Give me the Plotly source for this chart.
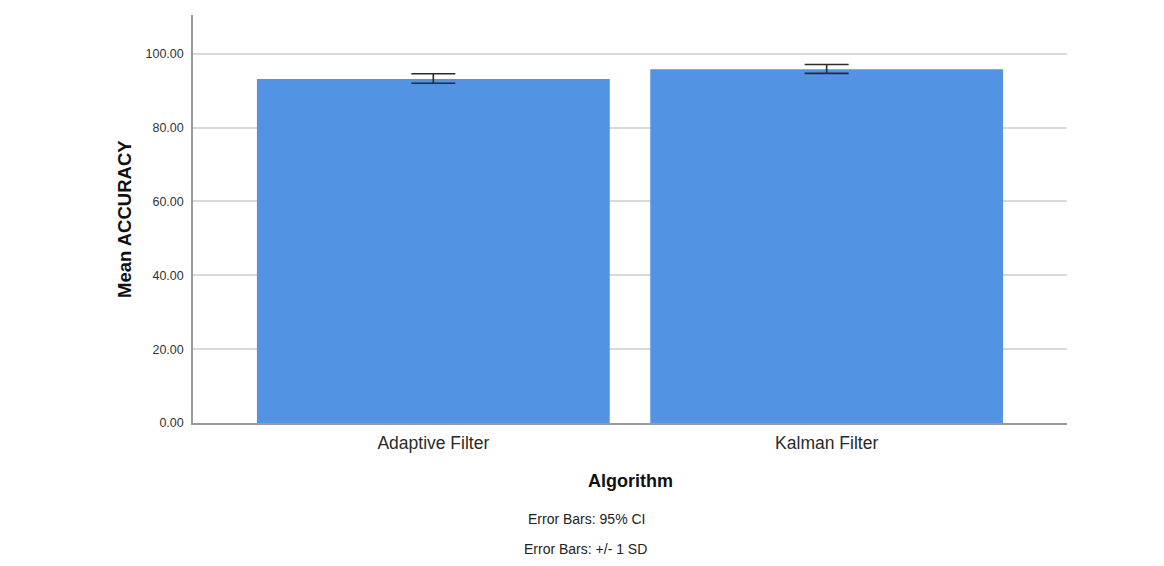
import plotly.graph_objects as go

categories = ["Adaptive Filter", "Kalman Filter"]
mean_accuracy = [93.2, 95.8]
err_plus = [1.4, 1.3]
err_minus = [1.2, 1.1]
y_ticks = [0, 20, 40, 60, 80, 100]
y_tick_labels = ["0.00", "20.00", "40.00", "60.00", "80.00", "100.00"]

fig = go.Figure()
fig.add_trace(go.Bar(
    x=[0, 1], y=mean_accuracy,
    width=0.897,
    marker=dict(color="#5393e4", line=dict(width=0)),
    error_y=dict(type="data", symmetric=False, array=err_plus, arrayminus=err_minus,
                 color="#2b2b2b", thickness=1.6, width=22),
))

fig.update_layout(
    width=1164, height=566,
    margin=dict(l=193, r=97, t=15, b=143),
    paper_bgcolor="white", plot_bgcolor="white",
    showlegend=False,
    font=dict(family="Liberation Sans, Arial, sans-serif", color="#222222"),
    xaxis=dict(
        range=[-0.611, 1.611],
        tickmode="array", tickvals=[0, 1], ticktext=categories,
        tickfont=dict(size=17.5, color="#2a2a2a"),
        showgrid=False, zeroline=False,
        showline=True, linecolor="#9a9a9a", linewidth=1.5,
        ticks="", ticklabelstandoff=3,
    ),
    yaxis=dict(
        range=[0, 110.5],
        tickmode="array", tickvals=y_ticks, ticktext=y_tick_labels,
        tickfont=dict(size=12.5, color="#333333"),
        showgrid=True, gridcolor="#d9d9d9", gridwidth=1.5,
        zeroline=False,
        showline=True, linecolor="#9a9a9a", linewidth=1.5,
        ticks="", ticklabelstandoff=5,
    ),
    annotations=[
        dict(text="<b>Mean ACCURACY</b>", xref="paper", yref="paper", x=0, y=0.5,
             xshift=-69, yshift=0, textangle=-90, showarrow=False,
             font=dict(size=18.5, color="#111111"),
             xanchor="center", yanchor="middle"),
        dict(text="<b>Algorithm</b>", xref="paper", yref="paper", x=0.5, y=0,
             yshift=-58, showarrow=False, font=dict(size=18, color="#111111"),
             xanchor="center", yanchor="middle"),
        dict(text="Error Bars: 95% CI", xref="paper", yref="paper", x=0.5, y=0,
             xshift=-44, yshift=-96, showarrow=False, font=dict(size=14, color="#222222"),
             xanchor="center", yanchor="middle"),
        dict(text="Error Bars: +/- 1 SD", xref="paper", yref="paper", x=0.5, y=0,
             xshift=-45, yshift=-126, showarrow=False, font=dict(size=14, color="#222222"),
             xanchor="center", yanchor="middle"),
    ],
)

fig.write_html("out.html")
